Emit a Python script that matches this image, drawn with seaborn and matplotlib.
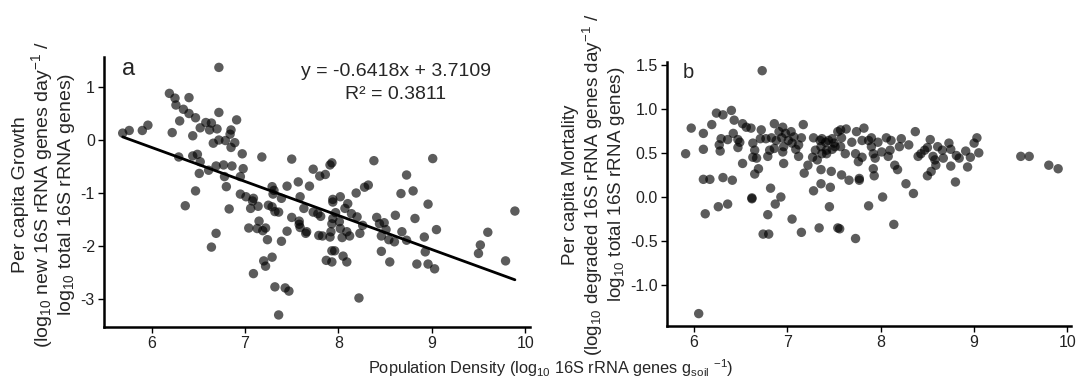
import numpy as np
import pandas as pd
import matplotlib
matplotlib.use('Agg')
import matplotlib.pyplot as plt
import seaborn as sns
from matplotlib.ticker import FormatStrFormatter

# 数据：人均增长 (a)
growth_x = [6.72, 6.19, 6.25, 6.40, 6.26, 6.34, 6.40, 6.47, 6.72, 6.30, 6.58, 6.64, 6.91, 6.52, 6.62,
            6.70, 6.85, 5.96, 5.90, 5.76, 5.69, 6.22, 6.44, 6.84, 6.72, 6.79, 6.66, 6.89, 6.85, 6.97,
            7.18, 7.50, 6.29, 6.44, 6.49, 6.52, 6.69, 6.77, 6.86, 6.98, 6.61, 6.51, 6.78, 6.95, 6.80,
            6.47, 6.95, 7.01, 7.09, 7.29, 7.31, 7.45, 7.57, 7.69, 7.73, 7.80, 7.30, 7.59,
            9.01, 8.38, 7.93, 7.91, 7.86, 8.73, 8.32, 8.28, 8.19, 8.02, 7.94, 8.67, 8.80,
            6.36, 6.83, 7.08, 7.06, 7.14, 7.25, 7.29, 7.32, 7.36, 7.39, 7.63, 7.15, 7.04, 7.13,
            7.19, 7.22, 7.24, 7.39, 7.45, 7.50, 7.58, 7.58, 7.59, 7.65, 7.66, 7.73, 7.78, 7.79,
            6.69, 6.64, 7.09, 7.20, 7.22, 7.29, 7.32, 7.43, 7.47, 7.36,
            7.81, 7.83, 7.87, 7.93, 7.93, 7.96, 7.91, 7.92, 7.93, 7.94, 7.94, 7.97, 8.07, 8.10,
            8.01, 8.02, 8.04, 8.05, 8.09, 8.09, 8.12, 8.14, 8.20, 8.23, 8.26, 8.22, 8.41, 8.44,
            8.49, 8.51, 8.46, 8.46, 8.55, 8.54, 8.60, 8.61, 8.68, 8.73, 8.82, 8.92, 8.93, 8.84,
            8.96, 9.03, 8.96, 9.05, 9.52, 9.50, 9.60, 9.79, 9.89]
growth_y = [1.37, 0.88, 0.79, 0.80, 0.66, 0.58, 0.50, 0.42, 0.52, 0.36, 0.33, 0.32, 0.38, 0.23, 0.19,
            0.21, 0.19, 0.28, 0.18, 0.18, 0.13, 0.14, 0.08, 0.11, 0.00, -0.01, -0.06, -0.05, -0.14, -0.26,
            -0.32, -0.36, -0.32, -0.30, -0.27, -0.41, -0.49, -0.47, -0.49, -0.54, -0.57, -0.63, -0.69, -0.69, -0.88,
            -0.96, -1.02, -1.07, -1.10, -0.88, -0.95, -0.87, -0.79, -0.87, -0.55, -0.68, -1.02, -1.07,
            -0.35, -0.39, -0.43, -0.47, -0.65, -0.66, -0.85, -0.89, -1.00, -1.07, -1.12, -1.01, -0.96,
            -1.24, -1.30, -1.15, -1.29, -1.25, -1.23, -1.26, -1.35, -1.36, -1.10, -1.29, -1.53, -1.66, -1.67,
            -1.71, -1.66, -1.88, -1.91, -1.72, -1.46, -1.53, -1.59, -1.65, -1.76, -1.73, -1.36, -1.39, -1.80,
            -1.76, -2.02, -2.52, -2.28, -2.38, -2.21, -2.77, -2.79, -2.85, -3.30,
            -1.44, -1.81, -2.27, -2.30, -2.09, -2.09, -1.83, -1.73, -1.58, -1.48, -1.17, -1.37, -1.29, -1.20,
            -1.54, -1.67, -1.84, -2.19, -2.30, -1.73, -1.81, -1.39, -1.45, -1.76, -1.61, -2.98, -1.46, -1.58,
            -1.56, -1.69, -1.81, -2.10, -2.30, -1.88, -1.92, -1.42, -1.73, -1.89, -1.48, -1.83, -2.11, -2.34,
            -2.34, -2.43, -1.21, -1.69, -1.98, -2.14, -1.74, -2.28, -1.34]

# 拟合线系数
slope = -0.6418
intercept = 3.7109
r2 = 0.3811

# 数据：人均死亡 (b)
mort_x = [6.73, 5.91, 5.97, 6.10, 6.10, 6.19, 6.24, 6.31, 6.40, 6.27, 6.28, 6.29, 6.36, 6.42, 6.43,
          6.47, 6.47, 6.49, 6.52, 6.56, 6.52, 6.61, 6.63, 6.65, 6.63, 6.67, 6.69, 6.65, 6.71, 6.72,
          6.77, 6.79, 6.81, 6.83, 6.86, 6.88, 6.86, 6.91, 6.94, 6.95, 6.96, 6.98, 7.01, 7.04, 7.05,
          7.07, 7.09, 6.95, 6.96, 7.12, 7.15, 7.17, 7.12, 7.18, 7.22, 7.27, 7.28, 7.30, 7.32, 7.35,
          7.36, 7.37, 7.41, 7.42, 7.36, 7.28, 7.36, 7.46, 7.47, 7.48, 7.51, 7.54, 6.82, 6.93, 6.62,
          6.10, 6.17, 6.31, 6.41,
          6.12, 6.26, 6.36, 6.62, 6.87, 6.79, 6.74, 6.80, 7.05, 7.15, 7.45, 7.34, 7.54, 6.05,
          7.56, 7.73, 7.66, 7.77, 7.87, 8.02, 8.14, 8.27, 8.35, 8.80,
          7.57, 7.63, 7.74, 7.82, 8.37, 7.37, 7.44, 7.50, 7.58, 7.69, 7.80, 7.87, 7.90, 7.97, 8.06,
          8.11, 8.22, 8.20, 8.30, 7.42, 7.48, 7.57, 7.62, 7.73, 7.80, 7.76, 7.90, 7.92, 7.94, 8.01,
          8.08, 8.10, 8.15, 8.18, 7.92, 7.93, 7.58, 7.77, 8.40, 8.43, 8.47, 8.50, 8.53, 8.56, 8.58,
          8.59, 8.54, 8.50, 8.61, 8.66, 8.67, 8.73, 8.75, 8.75, 8.81, 8.84, 8.91, 8.93, 8.96, 9.00,
          9.03, 9.05, 9.50, 9.59, 9.80, 9.90]
mort_y = [1.43, 0.49, 0.78, 0.72, 0.54, 0.82, 0.95, 0.93, 0.98, 0.59, 0.52, 0.66, 0.65, 0.72, 0.87,
          0.65, 0.56, 0.62, 0.83, 0.79, 0.38, 0.78, 0.61, 0.53, 0.45, 0.44, 0.32, 0.26, 0.66, 0.76,
          0.66, 0.46, 0.53, 0.67, 0.83, 0.64, 0.55, 0.74, 0.67, 0.79, 0.57, 0.72, 0.64, 0.74, 0.61,
          0.68, 0.54, 0.51, 0.38, 0.59, 0.67, 0.82, 0.46, 0.27, 0.36, 0.45, 0.67, 0.53, 0.42, 0.64,
          0.57, 0.49, 0.62, 0.53, 0.31, 0.07, 0.15, 0.11, 0.29, 0.66, 0.57, 0.74, 0.10, 0.00, -0.01,
          0.20, 0.20, 0.22, 0.19,
          -0.19, -0.11, -0.08, -0.02, -0.08, -0.20, -0.42, -0.42, -0.25, -0.40, -0.11, -0.35, -0.35, -1.32,
          -0.36, -0.47, 0.19, 0.19, -0.10, 0.00, -0.31, 0.15, 0.04, 0.17,
          0.76, 0.77, 0.74, 0.78, 0.74, 0.66, 0.64, 0.61, 0.67, 0.62, 0.64, 0.64, 0.67, 0.62, 0.67,
          0.64, 0.66, 0.57, 0.59, 0.49, 0.54, 0.57, 0.49, 0.49, 0.45, 0.40, 0.57, 0.49, 0.44, 0.51,
          0.46, 0.53, 0.36, 0.31, 0.32, 0.24, 0.25, 0.21, 0.46, 0.49, 0.53, 0.56, 0.65, 0.46, 0.42,
          0.36, 0.29, 0.24, 0.57, 0.53, 0.44, 0.61, 0.54, 0.35, 0.47, 0.44, 0.52, 0.34, 0.45, 0.61,
          0.67, 0.50, 0.46, 0.46, 0.36, 0.32]

df_a = pd.DataFrame({'density': growth_x, 'growth': growth_y})
df_b = pd.DataFrame({'density': mort_x, 'mortality': mort_y})

sns.set_style('white')
plt.rcParams['font.family'] = ['Liberation Sans', 'DejaVu Sans']
plt.rcParams['mathtext.fontset'] = 'custom'
plt.rcParams['mathtext.rm'] = 'Liberation Sans'
plt.rcParams['mathtext.it'] = 'Liberation Sans:italic'
plt.rcParams['axes.unicode_minus'] = False

fig = plt.figure(figsize=(10.78, 3.89), dpi=100)
ax1 = fig.add_axes([0.0965, 0.159, 0.395, 0.695])
ax2 = fig.add_axes([0.6187, 0.162, 0.375, 0.679])

pt = dict(color='black', alpha=0.64, s=46, edgecolor='none')
sns.scatterplot(data=df_a, x='density', y='growth', ax=ax1, **pt)
sns.scatterplot(data=df_b, x='density', y='mortality', ax=ax2, **pt)

# 回归线
xl = np.array([min(growth_x), max(growth_x)])
ax1.plot(xl, slope * xl + intercept, color='black', lw=2)

ax1.set_xlim(5.49, 10.05)
ax1.set_ylim(-3.53, 1.57)
ax1.set_yticks([-3, -2, -1, 0, 1])
ax2.set_xlim(5.71, 10.04)
ax2.set_ylim(-1.46, 1.53)
ax2.set_yticks([-1.0, -0.5, 0.0, 0.5, 1.0, 1.5])
ax2.yaxis.set_major_formatter(FormatStrFormatter('%.1f'))

for ax in (ax1, ax2):
    ax.set_xticks([6, 7, 8, 9, 10])
    sns.despine(ax=ax)
    for sp in ('left', 'bottom'):
        ax.spines[sp].set_color('black')
        ax.spines[sp].set_linewidth(1.8)
    ax.tick_params(axis='both', direction='out', length=4.5, width=1, color='black',
                   labelsize=11.5, labelcolor='#222222', left=True, bottom=True, pad=2)
    ax.set_xlabel('')

ax1.set_ylabel('Per capita Growth\n(log$_{10}$ new 16S rRNA genes day$^{-1}$ /\nlog$_{10}$ total 16S rRNA genes)',
               fontsize=14, linespacing=1.05)
ax1.yaxis.set_label_coords(-0.063, 0.49)
ax2.set_ylabel('Per capita Mortality\n(log$_{10}$ degraded 16S rRNA genes day$^{-1}$ /\nlog$_{10}$ total 16S rRNA genes)',
               fontsize=13.6, linespacing=1.08)
ax2.yaxis.set_label_coords(-0.099, 0.535)

ax1.text(0.042, 0.954, 'a', transform=ax1.transAxes, fontsize=17, va='center')
ax2.text(0.04, 0.958, 'b', transform=ax2.transAxes, fontsize=14.5, va='center')
ax1.text(0.685, 0.944, f'y = {slope}x + {intercept}', transform=ax1.transAxes,
         fontsize=14, va='center', ha='center')
ax1.text(0.685, 0.859, f'R² = {r2}', transform=ax1.transAxes,
         fontsize=14, va='center', ha='center')

fig.text(0.511, 0.053, 'Population Density (log$_{10}$ 16S rRNA genes g$_{\\mathrm{soil}}$ $^{-1}$)',
         ha='center', va='center', fontsize=11.8)

fig.savefig('out.png', dpi=100)
